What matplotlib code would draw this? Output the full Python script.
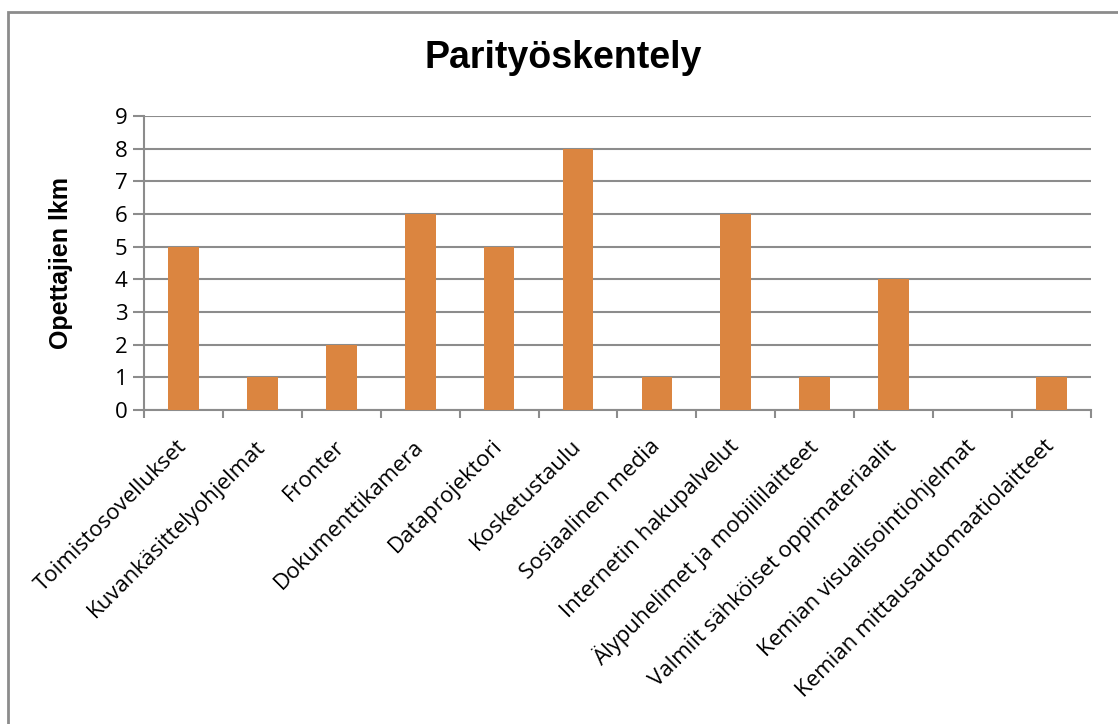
import matplotlib
matplotlib.use("Agg")
import matplotlib.pyplot as plt
from matplotlib.patches import Rectangle
import numpy as np

categories = [
    "Toimistosovellukset",
    "Kuvankäsittelyohjelmat",
    "Fronter",
    "Dokumenttikamera",
    "Dataprojektori",
    "Kosketustaulu",
    "Sosiaalinen media",
    "Internetin hakupalvelut",
    "Älypuhelimet ja mobiililaitteet",
    "Valmiit sähköiset oppimateriaalit",
    "Kemian visualisointiohjelmat",
    "Kemian mittausautomaatiolaitteet",
]
values = [5, 1, 2, 6, 5, 8, 1, 6, 1, 4, 0, 1]
yticks = list(range(10))

bar_color = "#DB8540"
grid_color = "#8C8C8C"
bold_font = ["Liberation Sans", "DejaVu Sans"]
label_font = ["Open Sans", "DejaVu Sans"]

fig = plt.figure(figsize=(11.18, 7.24), dpi=100)
ax = fig.add_axes([0.1288, 0.4337, 0.847, 0.4061])

x = np.arange(len(categories))
ax.bar(x, values, width=0.39, color=bar_color, zorder=3)

ax.set_xlim(-0.5, len(categories) - 0.5)
ax.set_ylim(0, 9)
ax.set_yticks(yticks)
ax.set_yticklabels([str(t) for t in yticks], family=label_font, fontsize=16)
ax.yaxis.grid(True, color=grid_color, linewidth=1.5, zorder=0)

# tick marks between categories, labels at centers
ax.set_xticks(np.arange(-0.5, len(categories)), minor=False)
ax.set_xticklabels([])
ax.set_xticks(x, minor=True)
ax.set_xticklabels(categories, minor=True, rotation=45, ha="right",
                   va="center", rotation_mode="anchor",
                   family=label_font, fontsize=16)
ax.tick_params(axis="x", which="minor", length=0, pad=24)
ax.tick_params(axis="x", which="major", length=6, width=1.5, color=grid_color)
ax.tick_params(axis="y", length=8, width=1.5, color=grid_color, pad=4)

for side in ["top", "right"]:
    ax.spines[side].set_visible(False)
for side in ["left", "bottom"]:
    ax.spines[side].set_color(grid_color)
    ax.spines[side].set_linewidth(1.5)

ax.set_ylabel("Opettajien lkm", family=bold_font, fontweight="bold",
              fontsize=18)
ax.yaxis.set_label_coords(-0.075, 0.5)
fig.text(0.5036, 0.92, "Parityöskentely", family=bold_font, fontweight="bold",
         fontsize=27, ha="center", va="center")

# chart border (cut off at right and bottom)
fig.patches.append(Rectangle((8 / 1118, -0.1), 1.2, 0.1 + (724 - 12) / 724,
                             transform=fig.transFigure, fill=False,
                             edgecolor="#8C8C8C", linewidth=2))

fig.savefig("out.png", dpi=100)
